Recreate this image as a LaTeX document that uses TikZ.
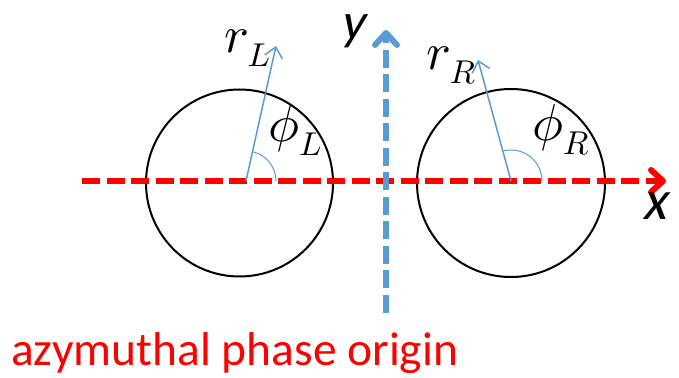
\documentclass[tikz,border=0pt]{standalone}
\usepackage{fontspec}
\setmainfont{Carlito}
\newfontfamily\axisfont{Carlito}[FakeSlant=0.2]
\usetikzlibrary{arrows.meta,positioning,calc}
\definecolor{phasered}{RGB}{255,0,0}
\definecolor{axisblue}{RGB}{91,155,213}
\DeclareFontShape{OML}{cmm}{m}{it}{<-8.5>cmmi7 <8.5->cmmi10}{}
\DeclareMathSizes{52}{52}{33}{24}
\tikzset{
  axisline/.style={line width=6pt, dash pattern=on 18pt off 6.5pt, -{Straight Barb[length=12pt,width=22pt,line cap=round,line join=round]}},
  ring/.style={shape=circle, draw=black, line width=2pt, inner sep=0pt},
  radvec/.style={draw=axisblue, line width=1.5pt, -{Straight Barb[length=10pt,width=18pt]}},
  anglearc/.style={draw=axisblue, line width=1pt},
  symlabel/.style={inner sep=0pt, anchor=base west, font=\fontsize{52}{60}\selectfont},
  axislabel/.style={inner sep=0pt, anchor=base west}
}
\begin{document}
\begin{tikzpicture}[x=1pt, y=1pt]
  \useasboundingbox (0,0) rectangle (679,377);

  % circles and the two radius vectors
  \node[ring, minimum size=187pt] (leftring) at (239.5,194) {};
  \node[ring, minimum size=188pt] (rightring) at (511,194) {};

  \coordinate (leftorig) at (246,196);
  \coordinate (lefttip) at (276,331);
  \coordinate (rightorig) at (511,196);
  \coordinate (righttip) at (478,317);

  % axes
  \coordinate (xstart) at (82,196);
  \coordinate (xend) at (666,196);
  \coordinate (ystart) at (386,64);
  \coordinate (yend) at (386,347);
  \draw[axisline, draw=phasered] (xstart) -- (xend);
  \draw[axisline, draw=axisblue] (ystart) -- (yend);

  \draw[radvec] (leftorig) -- (lefttip);
  \draw[radvec] (rightorig) -- (righttip);
  \draw[anglearc] ($(leftorig)+(30,0)$) arc[start angle=0, end angle=77.6, radius=30];
  \draw[anglearc] ($(rightorig)+(31,0)$) arc[start angle=0, end angle=105, radius=31];

  \node[symlabel] (rlabel) at (224,324) {$r_L$};
  \node[symlabel] (philabel) at (268,235) {$\phi_L$};
  \node[symlabel] (rrlabel) at (426,307) {$r_R$};
  \node[symlabel] (phirlabel) at (532,236) {$\phi_R$};

  \node[axislabel, font=\axisfont\fontsize{52}{58}\selectfont] (ylabel) at (340,337) {y};
  \node[axislabel, font=\axisfont\fontsize{56}{60}\selectfont] (xlabel) at (642,157) {x};

  \node[inner sep=0pt, anchor=base west, text=phasered, font=\fontsize{47.5}{52}\selectfont] (origin) at (11,12) {azymuthal phase origin};
\end{tikzpicture}
\end{document}
